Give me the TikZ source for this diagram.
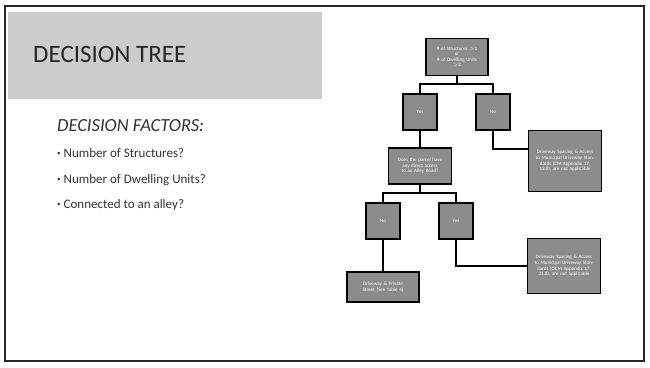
\documentclass[tikz,border=0pt]{standalone}
\usepackage{fontspec}
\setmainfont{Carlito}
\usepackage{tikz}

\newcommand{\ponto}{\raisebox{1.5pt}{\fontsize{7}{7}\selectfont\textbullet}\hspace{3pt}}

\tikzset{
  caixa/.style={draw=black, line width=1.1pt, fill=black!45, text=white,
    font=\fontsize{5}{5.6}\selectfont, align=center, inner sep=1.5pt},
  resp/.style={caixa, minimum width=34pt, minimum height=36pt},
  liga/.style={line width=1.1pt, black}
}

\begin{document}
\begin{tikzpicture}[x=1pt, y=-1pt, >=stealth]
    % x e y em pixels da imagem (y para baixo)
    \useasboundingbox (0,0) rectangle (650,367);
    \fill[white] (0,0) rectangle (650,367);

    % Moldura e faixa do titulo
    \fill[black!20] (8,12) rectangle (322,99);
    \draw[line width=2pt, black!85] (5,6) rectangle (644,361);

    % Titulo e fatores
    \node[anchor=base west, inner sep=0, font=\fontsize{25}{25}\selectfont, text=black!85] (titulo) at (33,62) {DECISION TREE};
    \node[anchor=base west, inner sep=0, font=\fontsize{18.5}{18.5}\itshape, text=black!80] (fatores) at (57,131) {DECISION FACTORS:};
    \node[anchor=base west, inner sep=0, font=\fontsize{13}{13}\selectfont, text=black!80] (f1) at (57,157) {\ponto Number of Structures?};
    \node[anchor=base west, inner sep=0, font=\fontsize{13}{13}\selectfont, text=black!80] (f2) at (57,183) {\ponto Number of Dwelling Units?};
    \node[anchor=base west, inner sep=0, font=\fontsize{13}{13}\selectfont, text=black!80] (f3) at (57,208) {\ponto Connected to an alley?};

    % Arvore
    \node[caixa, minimum width=62pt, minimum height=37pt, text width=58pt] (raiz) at (457,57)
        {\# of Structures $>$1\\or\\\# of Dwelling Units\\$>$2};
    \node[resp] (sim1) at (420,112) {Yes};
    \node[resp] (nao1) at (493,112) {No};
    \node[caixa, minimum width=63pt, minimum height=36pt, text width=59pt] (beco) at (420,166)
        {Does the parcel have any direct access to an Alley Road?};
    \node[caixa, minimum width=73pt, minimum height=61pt, text width=68pt] (padrao1) at (565,161)
        {Driveway Spacing \& Access to Municipal Driveway Standards (CM Appendix 17, 13.0), are not applicable};
    \node[resp] (nao2) at (383,221) {No};
    \node[resp] (sim2) at (456,221) {Yes};
    \node[caixa, minimum width=72pt, minimum height=30pt, text width=67pt] (privada) at (383,287)
        {Driveway \& Private Street (See Table 4)};
    \node[caixa, minimum width=73pt, minimum height=55pt, text width=68pt] (padrao2) at (564,266)
        {Driveway Spacing \& Access to Municipal Driveway Standards (OCM Appendix 17, 21.0), are not applicable};

    % Ligacoes
    \coordinate (j1) at (457,84);
    \draw[liga] (raiz) -- (j1) -| (sim1);
    \draw[liga] (j1) -| (nao1);
    \draw[liga] (sim1) -- (beco);
    \coordinate (k1) at (493,149);
    \draw[liga] (nao1) -- (k1) -- (k1 -| padrao1.west);
    \coordinate (j2) at (420,193);
    \draw[liga] (beco) -- (j2) -| (nao2);
    \draw[liga] (j2) -| (sim2);
    \draw[liga] (nao2) -- (privada);
    \draw[liga] (sim2.south) |- (padrao2.west);
\end{tikzpicture}
\end{document}
